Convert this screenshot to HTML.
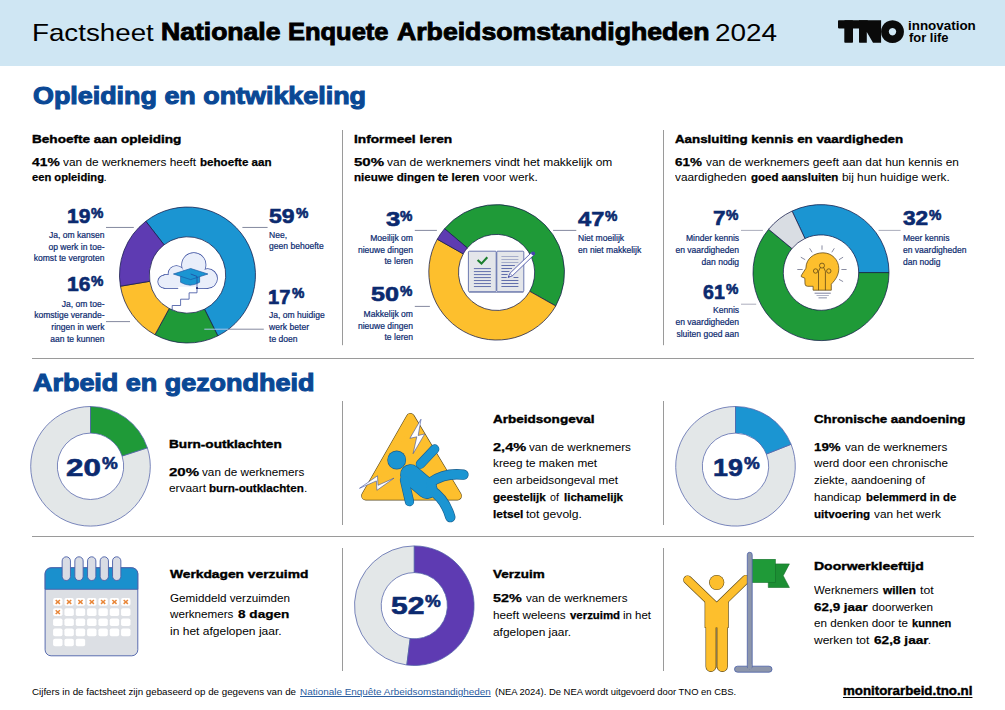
<!DOCTYPE html><html><head><meta charset="utf-8"><title>Factsheet NEA 2024</title><style>
html,body{margin:0;padding:0;background:#fff}
body{width:1005px;height:710px;position:relative;overflow:hidden;font-family:"Liberation Sans",sans-serif}
.hd{position:absolute;left:0;top:0;width:1005px;height:66px;background:#cfe6f3}
.t{position:absolute;white-space:nowrap;line-height:1;font-weight:400}
.t b{font-weight:700;-webkit-text-stroke:0.25px}
.tb{font-weight:700}
svg{position:absolute;left:0;top:0}
.bl{display:inline-block;width:0;height:0}
</style></head><body>
<div class="hd"></div>
<svg width="1005" height="710" viewBox="0 0 1005 710"><path d="M145.82,221.27 A68,68 0 1 1 217.84,335.86 L204.54,309.19 A38.2,38.2 0 1 0 164.09,244.82 Z" fill="#1b95d2" stroke="#141b4a" stroke-width="0.75" stroke-linejoin="round"/><path d="M217.84,335.86 A68,68 0 0 1 154.95,334.70 L169.21,308.54 A38.2,38.2 0 0 0 204.54,309.19 Z" fill="#1f9a38" stroke="#141b4a" stroke-width="0.75" stroke-linejoin="round"/><path d="M154.95,334.70 A68,68 0 0 1 120.43,286.22 L149.82,281.30 A38.2,38.2 0 0 0 169.21,308.54 Z" fill="#fdbf2d" stroke="#141b4a" stroke-width="0.75" stroke-linejoin="round"/><path d="M120.43,286.22 A68,68 0 0 1 145.82,221.27 L164.09,244.82 A38.2,38.2 0 0 0 149.82,281.30 Z" fill="#5e3bb2" stroke="#141b4a" stroke-width="0.75" stroke-linejoin="round"/><path d="M444.56,228.71 A68,68 0 0 1 555.74,305.98 L529.78,291.35 A38.2,38.2 0 0 0 467.32,247.94 Z" fill="#1f9a38" stroke="#141b4a" stroke-width="0.75" stroke-linejoin="round"/><path d="M555.74,305.98 A68,68 0 0 1 437.26,239.22 L463.22,253.85 A38.2,38.2 0 0 0 529.78,291.35 Z" fill="#fdbf2d" stroke="#141b4a" stroke-width="0.75" stroke-linejoin="round"/><path d="M437.26,239.22 A68,68 0 0 1 444.56,228.71 L467.32,247.94 A38.2,38.2 0 0 0 463.22,253.85 Z" fill="#5e3bb2" stroke="#141b4a" stroke-width="0.75" stroke-linejoin="round"/><path d="M792.05,211.07 A68,68 0 0 1 889.00,272.60 L858.70,272.60 A37.7,37.7 0 0 0 804.95,238.49 Z" fill="#1b95d2" stroke="#141b4a" stroke-width="0.75" stroke-linejoin="round"/><path d="M889.00,272.60 A68,68 0 1 1 768.61,229.26 L791.95,248.57 A37.7,37.7 0 1 0 858.70,272.60 Z" fill="#1f9a38" stroke="#141b4a" stroke-width="0.75" stroke-linejoin="round"/><path d="M768.61,229.26 A68,68 0 0 1 792.05,211.07 L804.95,238.49 A37.7,37.7 0 0 0 791.95,248.57 Z" fill="#d9dde3" stroke="#141b4a" stroke-width="0.75" stroke-linejoin="round"/><path d="M147.37,447.82 A59.8,59.8 0 1 1 90.50,406.50 L90.50,433.10 A33.2,33.2 0 1 0 122.08,456.04 Z" fill="#e3e7e8" stroke="#5262a8" stroke-width="0.75" stroke-linejoin="round"/><path d="M90.50,406.50 A59.8,59.8 0 0 1 147.37,447.82 L122.08,456.04 A33.2,33.2 0 0 0 90.50,433.10 Z" fill="#1f9a38" stroke="#5262a8" stroke-width="0.75" stroke-linejoin="round"/><path d="M791.10,444.29 A59.8,59.8 0 1 1 735.50,406.50 L735.50,433.10 A33.2,33.2 0 1 0 766.37,454.08 Z" fill="#e3e7e8" stroke="#5262a8" stroke-width="0.75" stroke-linejoin="round"/><path d="M735.50,406.50 A59.8,59.8 0 0 1 791.10,444.29 L766.37,454.08 A33.2,33.2 0 0 0 735.50,433.10 Z" fill="#1b95d2" stroke="#5262a8" stroke-width="0.75" stroke-linejoin="round"/><path d="M406.81,665.03 A59.8,59.8 0 0 1 414.30,545.90 L414.30,572.60 A33.1,33.1 0 0 0 410.15,638.54 Z" fill="#e3e7e8" stroke="#5262a8" stroke-width="0.75" stroke-linejoin="round"/><path d="M414.30,545.90 A59.8,59.8 0 1 1 406.81,665.03 L410.15,638.54 A33.1,33.1 0 1 0 414.30,572.60 Z" fill="#5e3bb2" stroke="#5262a8" stroke-width="0.75" stroke-linejoin="round"/><line x1="106" y1="227.45" x2="133.8" y2="227.45" stroke="#6e748e" stroke-width="0.85"/><line x1="242.4" y1="227.45" x2="267.6" y2="227.45" stroke="#6e748e" stroke-width="0.85"/><line x1="106" y1="321.6" x2="130" y2="321.6" stroke="#6e748e" stroke-width="0.85"/><line x1="228.3" y1="329.2" x2="263.8" y2="329.2" stroke="#6e748e" stroke-width="0.85"/><line x1="414.8" y1="230.4" x2="436.9" y2="230.4" stroke="#6e748e" stroke-width="0.85"/><line x1="553.1" y1="230.4" x2="576.3" y2="230.4" stroke="#6e748e" stroke-width="0.85"/><line x1="414.8" y1="306.4" x2="429.9" y2="306.4" stroke="#6e748e" stroke-width="0.85"/><line x1="741" y1="230.4" x2="762.9" y2="230.4" stroke="#a2a4b4" stroke-width="0.9"/><line x1="878.6" y1="230.4" x2="900.6" y2="230.4" stroke="#a2a4b4" stroke-width="0.9"/><line x1="741" y1="304.2" x2="756.2" y2="304.2" stroke="#a2a4b4" stroke-width="0.9"/><line x1="204.3" y1="329.2" x2="228.3" y2="329.2" stroke="#a9c6ea" stroke-width="1"/><line x1="32" y1="358.5" x2="974" y2="358.5" stroke="#9a9a9a" stroke-width="1"/><line x1="32" y1="536.5" x2="974" y2="536.5" stroke="#9a9a9a" stroke-width="1"/><line x1="342.5" y1="130" x2="342.5" y2="345.2" stroke="#9a9a9a" stroke-width="1"/><line x1="663.5" y1="130" x2="663.5" y2="345.2" stroke="#9a9a9a" stroke-width="1"/><line x1="342.5" y1="401" x2="342.5" y2="525" stroke="#9a9a9a" stroke-width="1"/><line x1="663.5" y1="401" x2="663.5" y2="525" stroke="#9a9a9a" stroke-width="1"/><line x1="342.5" y1="548" x2="342.5" y2="671" stroke="#9a9a9a" stroke-width="1"/><line x1="663.5" y1="548" x2="663.5" y2="671" stroke="#9a9a9a" stroke-width="1"/><g fill="#0a0a0a"><rect x="838" y="20.3" width="30" height="8.1" rx="0.8"/><rect x="844.3" y="20.3" width="8.7" height="22.4" rx="0.8"/><path d="M859,20.3 H881.1 V42.7 H873 L866.8,32 V42.7 H859.6 Q859,42.7 859,42 Z"/><path fill-rule="evenodd" d="M892.5,20.2 a11.45,11.45 0 1 0 0.01,0 Z M892.5,28 a3.7,3.7 0 1 1 -0.01,0 Z"/></g>
<g><circle cx="164.3" cy="281.7" r="6.1" fill="#e9eefa" stroke="#3b4fa0" stroke-width="1.5"/><circle cx="176.4" cy="273.8" r="7.9" fill="#e9eefa" stroke="#3b4fa0" stroke-width="1.5"/><circle cx="193.8" cy="264.8" r="11.8" fill="#e9eefa" stroke="#3b4fa0" stroke-width="1.5"/><circle cx="207.6" cy="278.6" r="9.5" fill="#e9eefa" stroke="#3b4fa0" stroke-width="1.5"/><rect x="164.3" y="274.9" width="43.3" height="13.2" fill="#e9eefa" stroke="#3b4fa0" stroke-width="1.5"/><circle cx="164.3" cy="281.7" r="6.1" fill="#e9eefa"/><circle cx="176.4" cy="273.8" r="7.9" fill="#e9eefa"/><circle cx="193.8" cy="264.8" r="11.8" fill="#e9eefa"/><circle cx="207.6" cy="278.6" r="9.5" fill="#e9eefa"/><rect x="164.3" y="274.9" width="43.3" height="13.2" fill="#e9eefa"/><rect x="178.2" y="286.8" width="18" height="3" fill="#fff"/><path d="M180.6,276.5 V282.3 Q190.1,288 199.6,282.3 V276.5 Z" fill="#1b95d2" stroke="#1a5aa5" stroke-width="0.7"/><path d="M173.45,274 L190.67,268.5 L207.9,274 L190.67,279.6 Z" fill="#1b95d2" stroke="#1a5aa5" stroke-width="0.7" stroke-linejoin="round"/><path d="M190.67,274 L197,276.4 V288.1" fill="none" stroke="#1f3f9a" stroke-width="0.7"/><circle cx="197" cy="288.1" r="1" fill="#14206a"/><path d="M197,289 V292.8 H189.1 V299.2 H180.6 V305.5 H172.2 V311" fill="none" stroke="#3b4fa0" stroke-width="0.8"/></g>
<g><rect x="468.4" y="251.2" width="27.8" height="40.5" rx="0.9" fill="#e4e6ea" stroke="#4a5aa0" stroke-width="0.8"/><rect x="496.8" y="251.2" width="27" height="40.5" rx="0.9" fill="#e4e6ea" stroke="#4a5aa0" stroke-width="0.8"/><line x1="469" y1="292.4" x2="523.4" y2="292.4" stroke="#8f98bb" stroke-width="1"/><polyline points="477.6,259.9 481.5,263.6 487.3,257.2" fill="none" stroke="#1c7f2e" stroke-width="2.1"/><line x1="473.9" y1="268.60" x2="490.9" y2="268.60" stroke="#4a5aa0" stroke-width="0.85"/><line x1="473.9" y1="271.59" x2="490.9" y2="271.59" stroke="#4a5aa0" stroke-width="0.85"/><line x1="473.9" y1="274.58" x2="490.9" y2="274.58" stroke="#4a5aa0" stroke-width="0.85"/><line x1="473.9" y1="277.57" x2="490.9" y2="277.57" stroke="#4a5aa0" stroke-width="0.85"/><line x1="473.9" y1="280.56" x2="490.9" y2="280.56" stroke="#4a5aa0" stroke-width="0.85"/><line x1="473.9" y1="283.55" x2="490.9" y2="283.55" stroke="#4a5aa0" stroke-width="0.85"/><line x1="473.9" y1="286.54" x2="490.9" y2="286.54" stroke="#4a5aa0" stroke-width="0.85"/><line x1="501.4" y1="256.50" x2="518.4" y2="256.50" stroke="#9aa3c4" stroke-width="0.85"/><line x1="501.4" y1="259.50" x2="518.4" y2="259.50" stroke="#9aa3c4" stroke-width="0.85"/><line x1="501.4" y1="262.50" x2="518.4" y2="262.50" stroke="#9aa3c4" stroke-width="0.85"/><line x1="501.4" y1="265.50" x2="514.9" y2="265.50" stroke="#4a5aa0" stroke-width="0.85"/><line x1="501.4" y1="268.50" x2="512" y2="268.50" stroke="#4a5aa0" stroke-width="0.85"/><line x1="501.4" y1="271.50" x2="509.4" y2="271.50" stroke="#4a5aa0" stroke-width="0.85"/><line x1="501.4" y1="274.50" x2="507.6" y2="274.50" stroke="#4a5aa0" stroke-width="0.85"/><line x1="501.4" y1="277.50" x2="506.7" y2="277.50" stroke="#4a5aa0" stroke-width="0.85"/><line x1="513.5" y1="277.50" x2="518.4" y2="277.50" stroke="#4a5aa0" stroke-width="0.85"/><line x1="501.4" y1="280.50" x2="518.4" y2="280.50" stroke="#4a5aa0" stroke-width="0.85"/><line x1="501.4" y1="283.50" x2="518.4" y2="283.50" stroke="#4a5aa0" stroke-width="0.85"/><line x1="501.4" y1="286.50" x2="518.4" y2="286.50" stroke="#4a5aa0" stroke-width="0.85"/><polygon points="508.10,277.50 512.34,275.84 534.41,254.56 531.99,252.04 509.91,273.33" fill="#fff" stroke="#3b45a0" stroke-width="0.8" stroke-linejoin="round"/><polygon points="508.10,277.50 509.92,276.79 508.88,275.71" fill="#3b45a0"/><line x1="512.34" y1="275.84" x2="509.91" y2="273.33" stroke="#3b45a0" stroke-width="0.6"/><circle cx="533.20" cy="253.30" r="1.9" fill="#4744ad"/></g>
<g><path d="M813.1,290.2 V286.3 H807.6 Q805.2,286.3 805,284 L804.8,278.2 L801.3,276.7 Q801,276 801.6,275 L805.9,268.3 C806,258.5 814,252.8 822.9,252.8 C832,252.8 838.8,260 838.8,268.5 C838.8,275 835.6,279.6 831.3,284.2 V290.2 Z" fill="#fdbf2d" stroke="#4d3a14" stroke-width="0.7" stroke-linejoin="round"/><g fill="none" stroke="#4d3a14" stroke-width="0.7"><line x1="818.5" y1="271.3" x2="818.5" y2="290.2"/><line x1="825.4" y1="271.3" x2="825.4" y2="290.2"/><circle cx="815.6" cy="271" r="2.2"/><circle cx="822" cy="265.6" r="2.5"/><circle cx="828.8" cy="271" r="2.2"/><path d="M818.5,271.3 L820.3,267.6 M825.4,271.3 L823.7,267.6"/></g><line x1="814.6" y1="293.2" x2="830.8" y2="293.2" stroke="#5a5f86" stroke-width="0.8"/><line x1="816.5" y1="295.5" x2="828.9" y2="295.5" stroke="#9aa0b8" stroke-width="0.8"/><line x1="818.5" y1="297.8" x2="826.9" y2="297.8" stroke="#a4a9bd" stroke-width="1.3"/><line x1="822" y1="245.4" x2="822" y2="249.8" stroke="#565a78" stroke-width="0.7"/><line x1="809.6" y1="248.3" x2="812.1" y2="252.3" stroke="#565a78" stroke-width="0.7"/><line x1="834.3" y1="248.3" x2="831.8" y2="252.3" stroke="#565a78" stroke-width="0.7"/><line x1="800.8" y1="257.2" x2="805.2" y2="259.7" stroke="#565a78" stroke-width="0.7"/><line x1="843.1" y1="257.2" x2="839" y2="259.7" stroke="#565a78" stroke-width="0.7"/><line x1="797.3" y1="269.5" x2="802.7" y2="269.5" stroke="#565a78" stroke-width="0.7"/><line x1="841.4" y1="269.5" x2="846.6" y2="269.5" stroke="#565a78" stroke-width="0.7"/><line x1="839" y1="279.4" x2="843.1" y2="281.6" stroke="#565a78" stroke-width="0.7"/></g>
<g><polygon points="410.4,417.7 457.3,495.8 365.8,495.8" fill="#4a4a3a" stroke="#5a4a20" stroke-width="9.2" stroke-linejoin="round"/><polygon points="410.4,417.7 457.3,495.8 365.8,495.8" fill="#fdbf2d" stroke="#fdbf2d" stroke-width="8" stroke-linejoin="round"/><polygon points="421,419.2 409.9,438.3 416.8,436.8 413.1,453.7 424.7,433.9 418.2,435.5" fill="#fff" stroke="#3b4fa0" stroke-width="0.6" stroke-linejoin="round"/><polygon points="359.5,488.3 377.5,475.8 378,485.3 393.9,478.2 376.9,490.3 376.4,480.9" fill="#fff" stroke="#3b4fa0" stroke-width="0.6" stroke-linejoin="round"/><g fill="#1a5f8f" stroke="#1a5f8f" stroke-linecap="round" stroke-linejoin="round"><circle cx="396.7" cy="460" r="9.450000000000001" stroke="none"/><line x1="410.5" y1="474.6" x2="427" y2="488.6" stroke-width="20.8"/><line x1="420.5" y1="464.1" x2="434.6" y2="449.1" stroke-width="9.5"/><line x1="404.5" y1="480" x2="409.5" y2="501.6" stroke-width="9.3"/><path d="M430.6,482.4 Q445.2,472.3 463.5,474.7" fill="none" stroke-width="10.3"/><path d="M430.6,489.7 Q445.2,498.9 450.3,517.2" fill="none" stroke-width="10.3"/></g><g fill="#1b95d2" stroke="#1b95d2" stroke-linecap="round" stroke-linejoin="round"><circle cx="396.7" cy="460" r="8.8" stroke="none"/><line x1="410.5" y1="474.6" x2="427" y2="488.6" stroke-width="19.5"/><line x1="420.5" y1="464.1" x2="434.6" y2="449.1" stroke-width="8.2"/><line x1="404.5" y1="480" x2="409.5" y2="501.6" stroke-width="8"/><path d="M430.6,482.4 Q445.2,472.3 463.5,474.7" fill="none" stroke-width="9"/><path d="M430.6,489.7 Q445.2,498.9 450.3,517.2" fill="none" stroke-width="9"/></g></g>
<g><rect x="45.1" y="567.8" width="92.7" height="88" rx="6" fill="#dcdfe4" stroke="#4a5fa8" stroke-width="0.9"/><path d="M45.1,589.3 V573.8 a6,6 0 0 1 6,-6 H131.8 a6,6 0 0 1 6,6 V589.3 Z" fill="#1a90cd" stroke="#4a5fa8" stroke-width="0.9"/><rect x="62.15" y="556.8" width="8.3" height="23.7" rx="4.15" fill="#d9dce4" stroke="#4a5fa8" stroke-width="0.9"/><rect x="74.85" y="556.8" width="8.3" height="23.7" rx="4.15" fill="#d9dce4" stroke="#4a5fa8" stroke-width="0.9"/><rect x="87.55" y="556.8" width="8.3" height="23.7" rx="4.15" fill="#d9dce4" stroke="#4a5fa8" stroke-width="0.9"/><rect x="100.15" y="556.8" width="8.3" height="23.7" rx="4.15" fill="#d9dce4" stroke="#4a5fa8" stroke-width="0.9"/><rect x="112.55" y="556.8" width="8.3" height="23.7" rx="4.15" fill="#d9dce4" stroke="#4a5fa8" stroke-width="0.9"/><rect x="53.10" y="598.10" width="9.4" height="7.7" rx="1.8" fill="#fff"/><path d="M55.70,600.05 L59.90,603.85 M59.90,600.05 L55.70,603.85" stroke="#e8873a" stroke-width="1.5"/><rect x="64.43" y="598.10" width="9.4" height="7.7" rx="1.8" fill="#fff"/><path d="M67.03,600.05 L71.23,603.85 M71.23,600.05 L67.03,603.85" stroke="#e8873a" stroke-width="1.5"/><rect x="75.76" y="598.10" width="9.4" height="7.7" rx="1.8" fill="#fff"/><path d="M78.36,600.05 L82.56,603.85 M82.56,600.05 L78.36,603.85" stroke="#e8873a" stroke-width="1.5"/><rect x="87.09" y="598.10" width="9.4" height="7.7" rx="1.8" fill="#fff"/><path d="M89.69,600.05 L93.89,603.85 M93.89,600.05 L89.69,603.85" stroke="#e8873a" stroke-width="1.5"/><rect x="98.42" y="598.10" width="9.4" height="7.7" rx="1.8" fill="#fff"/><path d="M101.02,600.05 L105.22,603.85 M105.22,600.05 L101.02,603.85" stroke="#e8873a" stroke-width="1.5"/><rect x="109.75" y="598.10" width="9.4" height="7.7" rx="1.8" fill="#fff"/><path d="M112.35,600.05 L116.55,603.85 M116.55,600.05 L112.35,603.85" stroke="#e8873a" stroke-width="1.5"/><rect x="121.08" y="598.10" width="9.4" height="7.7" rx="1.8" fill="#fff"/><path d="M123.68,600.05 L127.88,603.85 M127.88,600.05 L123.68,603.85" stroke="#e8873a" stroke-width="1.5"/><rect x="53.10" y="608.24" width="9.4" height="7.7" rx="1.8" fill="#fff"/><path d="M55.70,610.19 L59.90,613.99 M59.90,610.19 L55.70,613.99" stroke="#e8873a" stroke-width="1.5"/><rect x="64.43" y="608.24" width="9.4" height="7.7" rx="1.8" fill="#fff"/><rect x="75.76" y="608.24" width="9.4" height="7.7" rx="1.8" fill="#fff"/><rect x="87.09" y="608.24" width="9.4" height="7.7" rx="1.8" fill="#fff"/><rect x="98.42" y="608.24" width="9.4" height="7.7" rx="1.8" fill="#fff"/><rect x="109.75" y="608.24" width="9.4" height="7.7" rx="1.8" fill="#fff"/><rect x="121.08" y="608.24" width="9.4" height="7.7" rx="1.8" fill="#fff"/><rect x="53.10" y="618.38" width="9.4" height="7.7" rx="1.8" fill="#fff"/><rect x="64.43" y="618.38" width="9.4" height="7.7" rx="1.8" fill="#fff"/><rect x="75.76" y="618.38" width="9.4" height="7.7" rx="1.8" fill="#fff"/><rect x="87.09" y="618.38" width="9.4" height="7.7" rx="1.8" fill="#fff"/><rect x="98.42" y="618.38" width="9.4" height="7.7" rx="1.8" fill="#fff"/><rect x="109.75" y="618.38" width="9.4" height="7.7" rx="1.8" fill="#fff"/><rect x="121.08" y="618.38" width="9.4" height="7.7" rx="1.8" fill="#fff"/><rect x="53.10" y="628.52" width="9.4" height="7.7" rx="1.8" fill="#fff"/><rect x="64.43" y="628.52" width="9.4" height="7.7" rx="1.8" fill="#fff"/><rect x="75.76" y="628.52" width="9.4" height="7.7" rx="1.8" fill="#fff"/><rect x="87.09" y="628.52" width="9.4" height="7.7" rx="1.8" fill="#fff"/><rect x="98.42" y="628.52" width="9.4" height="7.7" rx="1.8" fill="#fff"/><rect x="109.75" y="628.52" width="9.4" height="7.7" rx="1.8" fill="#fff"/><rect x="121.08" y="628.52" width="9.4" height="7.7" rx="1.8" fill="#fff"/><rect x="53.10" y="638.66" width="9.4" height="7.7" rx="1.8" fill="#fff"/><rect x="64.43" y="638.66" width="9.4" height="7.7" rx="1.8" fill="#fff"/><rect x="75.76" y="638.66" width="9.4" height="7.7" rx="1.8" fill="#fff"/></g>
<g><g fill="#5f4a18" stroke="#5f4a18" stroke-linecap="round" stroke-linejoin="round"><circle cx="716.7" cy="582.5" r="7.6" stroke="none"/><line x1="687.6" y1="579.8" x2="716.7" y2="607.7" stroke-width="8.799999999999999"/><line x1="745.8" y1="579.4" x2="716.7" y2="607.7" stroke-width="8.799999999999999"/><path d="M705.2,598 L716.7,609 L728.1,598 V627.4 H705.2 Z" stroke-width="1.2"/><rect x="706.1" y="618" width="9.5" height="53.3" rx="4.7" stroke-width="1.2"/><rect x="717.4" y="618" width="9.8" height="53.3" rx="4.7" stroke-width="1.2"/></g><g fill="#fdbf2d" stroke="#fdbf2d" stroke-linecap="round" stroke-linejoin="round"><circle cx="716.7" cy="582.5" r="7.0" stroke="none"/><line x1="687.6" y1="579.8" x2="716.7" y2="607.7" stroke-width="7.6"/><line x1="745.8" y1="579.4" x2="716.7" y2="607.7" stroke-width="7.6"/><path d="M705.2,598 L716.7,609 L728.1,598 V627.4 H705.2 Z" stroke-width="0"/><rect x="706.1" y="618" width="9.5" height="53.3" rx="4.7" stroke-width="0"/><rect x="717.4" y="618" width="9.8" height="53.3" rx="4.7" stroke-width="0"/></g><line x1="716.5" y1="628" x2="716.5" y2="668" stroke="#5f4a18" stroke-width="0.6"/><polygon points="768.3,563.9 789.4,563.9 783.2,575.7 789.4,587.5 768.3,587.5" fill="#1c8f33" stroke="#15702a" stroke-width="0.6"/><rect x="751.5" y="559.3" width="23.8" height="23.2" fill="#1f9a38" stroke="#15702a" stroke-width="0.6"/><rect x="734.5" y="666.2" width="37.5" height="6" rx="3" fill="#8d96ab" stroke="#4a5fa8" stroke-width="0.8"/><rect x="747.3" y="552.3" width="4.9" height="116.5" rx="2.45" fill="#8d96ab" stroke="#4a5fa8" stroke-width="0.8"/><rect x="747.8" y="664" width="3.9" height="5" fill="#8d96ab"/></g></svg>
<div class="t" style="top:21.00px;font-size:24.4px;color:#000;left:31.63px;transform-origin:0 0;transform:scaleX(1.1371);">Factsheet</div>
<div class="t tb" style="top:20.00px;font-size:23.8px;color:#000;left:161.38px;transform-origin:0 0;transform:scaleX(1.1151);-webkit-text-stroke:0.9px;">Nationale</div>
<div class="t tb" style="top:20.00px;font-size:23.8px;color:#000;left:287.63px;transform-origin:0 0;transform:scaleX(1.0699);-webkit-text-stroke:0.9px;">Enquete</div>
<div class="t tb" style="top:20.00px;font-size:23.8px;color:#000;left:396.70px;transform-origin:0 0;transform:scaleX(1.1198);-webkit-text-stroke:0.9px;">Arbeidsomstandigheden</div>
<div class="t" style="top:21.00px;font-size:24.4px;color:#000;left:715.26px;transform-origin:0 0;transform:scaleX(1.1434);">2024</div>
<div class="t tb" style="top:20.00px;font-size:12.6px;color:#000;left:908.04px;transform-origin:0 0;transform:scaleX(1.0645);">innovation</div>
<div class="t tb" style="top:32.00px;font-size:12.6px;color:#000;left:909.10px;transform-origin:0 0;transform:scaleX(1.0263);">for life</div>
<div class="t tb" style="top:84.00px;font-size:24.6px;color:#0a4895;left:32.80px;transform-origin:0 0;transform:scaleX(1.0928);-webkit-text-stroke:1.1px;">Opleiding en ontwikkeling</div>
<div class="t tb" style="top:371.00px;font-size:24.6px;color:#0a4895;left:32.60px;transform-origin:0 0;transform:scaleX(1.0953);-webkit-text-stroke:1.1px;">Arbeid en gezondheid</div>
<div class="t tb" style="top:133.00px;font-size:11.6px;color:#000;left:32.10px;transform-origin:0 0;transform:scaleX(1.1709);-webkit-text-stroke:0.4px;">Behoefte aan opleiding</div>
<div class="t tb" style="top:133.00px;font-size:11.6px;color:#000;left:353.50px;transform-origin:0 0;transform:scaleX(1.1819);-webkit-text-stroke:0.4px;">Informeel leren</div>
<div class="t tb" style="top:133.00px;font-size:11.6px;color:#000;left:675.40px;transform-origin:0 0;transform:scaleX(1.1495);-webkit-text-stroke:0.4px;">Aansluiting kennis en vaardigheden</div>
<div class="t tb" style="top:157.00px;font-size:11.5px;color:#000;left:32.10px;transform-origin:0 0;transform:scaleX(1.2043);-webkit-text-stroke:0.25px;">41%</div>
<div class="t" style="top:157.00px;font-size:11.5px;color:#000;left:63.00px;transform-origin:0 0;transform:scaleX(1.0310);">van de werknemers heeft</div>
<div class="t tb" style="top:157.00px;font-size:11.5px;color:#000;left:200.00px;transform-origin:0 0;transform:scaleX(1.0085);-webkit-text-stroke:0.25px;">behoefte aan</div>
<div class="t tb" style="top:172.00px;font-size:11.5px;color:#000;left:32.10px;transform-origin:0 0;transform:scaleX(0.9716);-webkit-text-stroke:0.25px;">een opleiding</div>
<div class="t" style="top:172.00px;font-size:11.5px;color:#000;left:103.60px;transform-origin:0 0;">.</div>
<div class="t tb" style="top:157.00px;font-size:11.5px;color:#000;left:353.90px;transform-origin:0 0;transform:scaleX(1.3087);-webkit-text-stroke:0.25px;">50%</div>
<div class="t" style="top:157.00px;font-size:11.5px;color:#000;left:387.40px;transform-origin:0 0;transform:scaleX(1.0398);">van de werknemers vindt het makkelijk om</div>
<div class="t tb" style="top:172.00px;font-size:11.5px;color:#000;left:353.90px;transform-origin:0 0;transform:scaleX(1.0113);-webkit-text-stroke:0.25px;">nieuwe dingen te leren</div>
<div class="t" style="top:172.00px;font-size:11.5px;color:#000;left:482.90px;transform-origin:0 0;transform:scaleX(1.0308);">voor werk.</div>
<div class="t tb" style="top:157.00px;font-size:11.5px;color:#000;left:675.40px;transform-origin:0 0;transform:scaleX(1.1696);-webkit-text-stroke:0.25px;">61%</div>
<div class="t" style="top:157.00px;font-size:11.5px;color:#000;left:706.20px;transform-origin:0 0;transform:scaleX(1.0302);">van de werknemers geeft aan dat hun kennis en</div>
<div class="t" style="top:172.00px;font-size:11.5px;color:#000;left:675.40px;transform-origin:0 0;transform:scaleX(1.0261);">vaardigheden</div>
<div class="t tb" style="top:172.00px;font-size:11.5px;color:#000;left:750.70px;transform-origin:0 0;transform:scaleX(0.9977);-webkit-text-stroke:0.25px;">goed aansluiten</div>
<div class="t" style="top:172.00px;font-size:11.5px;color:#000;left:841.70px;transform-origin:0 0;transform:scaleX(1.0279);">bij hun huidige werk.</div>
<div class="t tb" style="top:206.00px;font-size:20.6px;color:#0b2a6f;left:67.18px;transform-origin:0 0;transform:scaleX(1.0227);-webkit-text-stroke:0.6px;">19</div>
<div class="t tb" style="top:207.00px;font-size:13.8px;color:#0b2a6f;left:91.40px;transform-origin:0 0;transform:scaleX(1.0077);-webkit-text-stroke:0.6px;">%</div>
<div class="t" style="top:231.00px;font-size:8.55px;color:#0b2a6f;right:900.50px;transform-origin:100% 0;-webkit-text-stroke:0.2px;">Ja, om kansen</div>
<div class="t" style="top:243.00px;font-size:8.55px;color:#0b2a6f;right:900.50px;transform-origin:100% 0;-webkit-text-stroke:0.2px;">op werk in toe-</div>
<div class="t" style="top:254.00px;font-size:8.55px;color:#0b2a6f;right:900.50px;transform-origin:100% 0;-webkit-text-stroke:0.2px;">komst te vergroten</div>
<div class="t tb" style="top:274.00px;font-size:20.6px;color:#0b2a6f;left:67.18px;transform-origin:0 0;transform:scaleX(1.0227);-webkit-text-stroke:0.6px;">16</div>
<div class="t tb" style="top:275.00px;font-size:13.8px;color:#0b2a6f;left:91.40px;transform-origin:0 0;transform:scaleX(1.0077);-webkit-text-stroke:0.6px;">%</div>
<div class="t" style="top:300.00px;font-size:8.55px;color:#0b2a6f;right:900.50px;transform-origin:100% 0;-webkit-text-stroke:0.2px;">Ja, om toe-</div>
<div class="t" style="top:311.00px;font-size:8.55px;color:#0b2a6f;right:900.50px;transform-origin:100% 0;-webkit-text-stroke:0.2px;">komstige verande-</div>
<div class="t" style="top:323.00px;font-size:8.55px;color:#0b2a6f;right:900.50px;transform-origin:100% 0;-webkit-text-stroke:0.2px;">ringen in werk</div>
<div class="t" style="top:335.00px;font-size:8.55px;color:#0b2a6f;right:900.50px;transform-origin:100% 0;-webkit-text-stroke:0.2px;">aan te kunnen</div>
<div class="t tb" style="top:206.00px;font-size:20.6px;color:#0b2a6f;left:269.10px;transform-origin:0 0;transform:scaleX(1.1174);-webkit-text-stroke:0.6px;">59</div>
<div class="t tb" style="top:207.00px;font-size:13.8px;color:#0b2a6f;left:295.50px;transform-origin:0 0;transform:scaleX(1.0077);-webkit-text-stroke:0.6px;">%</div>
<div class="t" style="top:231.00px;font-size:8.55px;color:#0b2a6f;left:269.10px;transform-origin:0 0;-webkit-text-stroke:0.2px;">Nee,</div>
<div class="t" style="top:242.00px;font-size:8.55px;color:#0b2a6f;left:269.10px;transform-origin:0 0;-webkit-text-stroke:0.2px;">geen behoefte</div>
<div class="t tb" style="top:287.00px;font-size:20.6px;color:#0b2a6f;left:268.12px;transform-origin:0 0;transform:scaleX(0.9773);-webkit-text-stroke:0.6px;">17</div>
<div class="t tb" style="top:287.00px;font-size:13.8px;color:#0b2a6f;left:292.30px;transform-origin:0 0;transform:scaleX(1.0077);-webkit-text-stroke:0.6px;">%</div>
<div class="t" style="top:311.00px;font-size:8.55px;color:#0b2a6f;left:269.10px;transform-origin:0 0;-webkit-text-stroke:0.2px;">Ja, om huidige</div>
<div class="t" style="top:323.00px;font-size:8.55px;color:#0b2a6f;left:269.10px;transform-origin:0 0;-webkit-text-stroke:0.2px;">werk beter</div>
<div class="t" style="top:335.00px;font-size:8.55px;color:#0b2a6f;left:269.10px;transform-origin:0 0;-webkit-text-stroke:0.2px;">te doen</div>
<div class="t tb" style="top:209.00px;font-size:20.6px;color:#0b2a6f;left:385.50px;transform-origin:0 0;transform:scaleX(1.2455);-webkit-text-stroke:0.6px;">3</div>
<div class="t tb" style="top:210.00px;font-size:13.8px;color:#0b2a6f;left:399.90px;transform-origin:0 0;transform:scaleX(1.0077);-webkit-text-stroke:0.6px;">%</div>
<div class="t" style="top:234.00px;font-size:8.55px;color:#0b2a6f;right:592.00px;transform-origin:100% 0;-webkit-text-stroke:0.2px;">Moeilijk om</div>
<div class="t" style="top:246.00px;font-size:8.55px;color:#0b2a6f;right:592.00px;transform-origin:100% 0;-webkit-text-stroke:0.2px;">nieuwe dingen</div>
<div class="t" style="top:257.00px;font-size:8.55px;color:#0b2a6f;right:592.00px;transform-origin:100% 0;-webkit-text-stroke:0.2px;">te leren</div>
<div class="t tb" style="top:284.00px;font-size:20.6px;color:#0b2a6f;left:371.10px;transform-origin:0 0;transform:scaleX(1.2217);-webkit-text-stroke:0.6px;">50</div>
<div class="t tb" style="top:285.00px;font-size:13.8px;color:#0b2a6f;left:399.90px;transform-origin:0 0;transform:scaleX(1.0077);-webkit-text-stroke:0.6px;">%</div>
<div class="t" style="top:310.00px;font-size:8.55px;color:#0b2a6f;right:592.00px;transform-origin:100% 0;-webkit-text-stroke:0.2px;">Makkelijk om</div>
<div class="t" style="top:322.00px;font-size:8.55px;color:#0b2a6f;right:592.00px;transform-origin:100% 0;-webkit-text-stroke:0.2px;">nieuwe dingen</div>
<div class="t" style="top:333.00px;font-size:8.55px;color:#0b2a6f;right:592.00px;transform-origin:100% 0;-webkit-text-stroke:0.2px;">te leren</div>
<div class="t tb" style="top:209.00px;font-size:20.6px;color:#0b2a6f;left:578.00px;transform-origin:0 0;transform:scaleX(1.1478);-webkit-text-stroke:0.6px;">47</div>
<div class="t tb" style="top:210.00px;font-size:13.8px;color:#0b2a6f;left:605.10px;transform-origin:0 0;transform:scaleX(1.0077);-webkit-text-stroke:0.6px;">%</div>
<div class="t" style="top:234.00px;font-size:8.55px;color:#0b2a6f;left:578.00px;transform-origin:0 0;-webkit-text-stroke:0.2px;">Niet moeilijk</div>
<div class="t" style="top:246.00px;font-size:8.55px;color:#0b2a6f;left:578.00px;transform-origin:0 0;-webkit-text-stroke:0.2px;">en niet makkelijk</div>
<div class="t tb" style="top:208.00px;font-size:20.6px;color:#0b2a6f;left:713.30px;transform-origin:0 0;transform:scaleX(1.0909);-webkit-text-stroke:0.6px;">7</div>
<div class="t tb" style="top:209.00px;font-size:13.8px;color:#0b2a6f;left:726.00px;transform-origin:0 0;transform:scaleX(1.0077);-webkit-text-stroke:0.6px;">%</div>
<div class="t" style="top:234.00px;font-size:8.55px;color:#0b2a6f;right:265.90px;transform-origin:100% 0;-webkit-text-stroke:0.2px;">Minder kennis</div>
<div class="t" style="top:246.00px;font-size:8.55px;color:#0b2a6f;right:265.90px;transform-origin:100% 0;-webkit-text-stroke:0.2px;">en vaardigheden</div>
<div class="t" style="top:258.00px;font-size:8.55px;color:#0b2a6f;right:265.90px;transform-origin:100% 0;-webkit-text-stroke:0.2px;">dan nodig</div>
<div class="t tb" style="top:282.00px;font-size:20.6px;color:#0b2a6f;left:703.40px;transform-origin:0 0;transform:scaleX(0.9522);-webkit-text-stroke:0.6px;">61</div>
<div class="t tb" style="top:283.00px;font-size:13.8px;color:#0b2a6f;left:726.00px;transform-origin:0 0;transform:scaleX(1.0077);-webkit-text-stroke:0.6px;">%</div>
<div class="t" style="top:306.00px;font-size:8.55px;color:#0b2a6f;right:265.90px;transform-origin:100% 0;-webkit-text-stroke:0.2px;">Kennis</div>
<div class="t" style="top:318.00px;font-size:8.55px;color:#0b2a6f;right:265.90px;transform-origin:100% 0;-webkit-text-stroke:0.2px;">en vaardigheden</div>
<div class="t" style="top:330.00px;font-size:8.55px;color:#0b2a6f;right:265.90px;transform-origin:100% 0;-webkit-text-stroke:0.2px;">sluiten goed aan</div>
<div class="t tb" style="top:208.00px;font-size:20.6px;color:#0b2a6f;left:902.90px;transform-origin:0 0;transform:scaleX(1.1000);-webkit-text-stroke:0.6px;">32</div>
<div class="t tb" style="top:209.00px;font-size:13.8px;color:#0b2a6f;left:928.90px;transform-origin:0 0;transform:scaleX(1.0077);-webkit-text-stroke:0.6px;">%</div>
<div class="t" style="top:234.00px;font-size:8.55px;color:#0b2a6f;left:902.90px;transform-origin:0 0;-webkit-text-stroke:0.2px;">Meer kennis</div>
<div class="t" style="top:246.00px;font-size:8.55px;color:#0b2a6f;left:902.90px;transform-origin:0 0;-webkit-text-stroke:0.2px;">en vaardigheden</div>
<div class="t" style="top:258.00px;font-size:8.55px;color:#0b2a6f;left:902.90px;transform-origin:0 0;-webkit-text-stroke:0.2px;">dan nodig</div>
<div class="t tb" style="top:438.00px;font-size:11.6px;color:#000;left:168.50px;transform-origin:0 0;transform:scaleX(1.1750);-webkit-text-stroke:0.4px;">Burn-outklachten</div>
<div class="t tb" style="top:467.00px;font-size:11.5px;color:#000;left:168.50px;transform-origin:0 0;transform:scaleX(1.3087);-webkit-text-stroke:0.25px;">20%</div>
<div class="t" style="top:467.00px;font-size:11.5px;color:#000;left:202.30px;transform-origin:0 0;transform:scaleX(1.0190);">van de werknemers</div>
<div class="t" style="top:483.00px;font-size:11.5px;color:#000;left:168.50px;transform-origin:0 0;transform:scaleX(1.0333);">ervaart</div>
<div class="t tb" style="top:483.00px;font-size:11.5px;color:#000;left:209.00px;transform-origin:0 0;transform:scaleX(1.0085);-webkit-text-stroke:0.25px;">burn-outklachten</div>
<div class="t" style="top:483.00px;font-size:11.5px;color:#000;left:304.25px;transform-origin:0 0;transform:scaleX(1.0500);">.</div>
<div class="t tb" style="top:456.00px;font-size:23.8px;color:#0b2a6f;left:65.70px;transform-origin:0 0;transform:scaleX(1.3154);-webkit-text-stroke:0.6px;">20</div>
<div class="t tb" style="top:455.00px;font-size:16.4px;color:#0b2a6f;left:101.80px;transform-origin:0 0;transform:scaleX(1.0800);-webkit-text-stroke:0.6px;">%</div>
<div class="t tb" style="top:413.00px;font-size:11.6px;color:#000;left:492.60px;transform-origin:0 0;transform:scaleX(1.1667);-webkit-text-stroke:0.4px;">Arbeidsongeval</div>
<div class="t tb" style="top:442.00px;font-size:11.5px;color:#000;left:492.60px;transform-origin:0 0;transform:scaleX(1.2692);-webkit-text-stroke:0.25px;">2,4%</div>
<div class="t" style="top:442.00px;font-size:11.5px;color:#000;left:529.30px;transform-origin:0 0;transform:scaleX(1.0160);">van de werknemers</div>
<div class="t" style="top:458.00px;font-size:11.5px;color:#000;left:492.60px;transform-origin:0 0;transform:scaleX(1.0235);">kreeg te maken met</div>
<div class="t" style="top:475.00px;font-size:11.5px;color:#000;left:492.60px;transform-origin:0 0;transform:scaleX(1.0179);">een arbeidsongeval met</div>
<div class="t tb" style="top:492.00px;font-size:11.5px;color:#000;left:492.60px;transform-origin:0 0;transform:scaleX(1.0057);-webkit-text-stroke:0.25px;">geestelijk</div>
<div class="t" style="top:492.00px;font-size:11.5px;color:#000;left:550.10px;transform-origin:0 0;transform:scaleX(0.9300);">of</div>
<div class="t tb" style="top:492.00px;font-size:11.5px;color:#000;left:563.70px;transform-origin:0 0;transform:scaleX(1.0034);-webkit-text-stroke:0.25px;">lichamelijk</div>
<div class="t tb" style="top:509.00px;font-size:11.5px;color:#000;left:492.60px;transform-origin:0 0;transform:scaleX(1.0345);-webkit-text-stroke:0.25px;">letsel</div>
<div class="t" style="top:509.00px;font-size:11.5px;color:#000;left:526.40px;transform-origin:0 0;transform:scaleX(1.0538);">tot gevolg.</div>
<div class="t tb" style="top:413.00px;font-size:11.6px;color:#000;left:814.30px;transform-origin:0 0;transform:scaleX(1.1470);-webkit-text-stroke:0.4px;">Chronische aandoening</div>
<div class="t tb" style="top:442.00px;font-size:11.5px;color:#000;left:814.30px;transform-origin:0 0;transform:scaleX(1.1565);-webkit-text-stroke:0.25px;">19%</div>
<div class="t" style="top:442.00px;font-size:11.5px;color:#000;left:844.70px;transform-origin:0 0;transform:scaleX(1.0200);">van de werknemers</div>
<div class="t" style="top:458.00px;font-size:11.5px;color:#000;left:814.30px;transform-origin:0 0;transform:scaleX(1.0129);">werd door een chronische</div>
<div class="t" style="top:475.00px;font-size:11.5px;color:#000;left:814.30px;transform-origin:0 0;transform:scaleX(1.0145);">ziekte, aandoening of</div>
<div class="t" style="top:492.00px;font-size:11.5px;color:#000;left:814.30px;transform-origin:0 0;transform:scaleX(1.0085);">handicap</div>
<div class="t tb" style="top:492.00px;font-size:11.5px;color:#000;left:865.90px;transform-origin:0 0;transform:scaleX(0.9870);-webkit-text-stroke:0.25px;">belemmerd in de</div>
<div class="t tb" style="top:509.00px;font-size:11.5px;color:#000;left:814.30px;transform-origin:0 0;transform:scaleX(1.0091);-webkit-text-stroke:0.25px;">uitvoering</div>
<div class="t" style="top:509.00px;font-size:11.5px;color:#000;left:873.50px;transform-origin:0 0;transform:scaleX(1.0277);">van het werk</div>
<div class="t tb" style="top:456.00px;font-size:23.8px;color:#0b2a6f;left:713.17px;transform-origin:0 0;transform:scaleX(1.1280);-webkit-text-stroke:0.6px;">19</div>
<div class="t tb" style="top:455.00px;font-size:16.4px;color:#0b2a6f;left:744.40px;transform-origin:0 0;transform:scaleX(1.0800);-webkit-text-stroke:0.6px;">%</div>
<div class="t tb" style="top:568.00px;font-size:11.6px;color:#000;left:170.10px;transform-origin:0 0;transform:scaleX(1.1888);-webkit-text-stroke:0.4px;">Werkdagen verzuimd</div>
<div class="t" style="top:593.00px;font-size:11.5px;color:#000;left:170.10px;transform-origin:0 0;transform:scaleX(1.0153);">Gemiddeld verzuimden</div>
<div class="t" style="top:609.00px;font-size:11.5px;color:#000;left:170.10px;transform-origin:0 0;transform:scaleX(1.0127);">werknemers</div>
<div class="t tb" style="top:609.00px;font-size:11.5px;color:#000;left:237.80px;transform-origin:0 0;transform:scaleX(1.1814);-webkit-text-stroke:0.25px;">8 dagen</div>
<div class="t" style="top:626.00px;font-size:11.5px;color:#000;left:170.10px;transform-origin:0 0;transform:scaleX(1.0453);">in het afgelopen jaar.</div>
<div class="t tb" style="top:568.00px;font-size:11.6px;color:#000;left:492.80px;transform-origin:0 0;transform:scaleX(1.1622);-webkit-text-stroke:0.4px;">Verzuim</div>
<div class="t tb" style="top:593.00px;font-size:11.5px;color:#000;left:492.80px;transform-origin:0 0;transform:scaleX(1.2522);-webkit-text-stroke:0.25px;">52%</div>
<div class="t" style="top:593.00px;font-size:11.5px;color:#000;left:525.90px;transform-origin:0 0;transform:scaleX(1.0110);">van de werknemers</div>
<div class="t" style="top:610.00px;font-size:11.5px;color:#000;left:492.80px;transform-origin:0 0;transform:scaleX(1.0225);">heeft weleens</div>
<div class="t tb" style="top:610.00px;font-size:11.5px;color:#000;left:569.50px;transform-origin:0 0;transform:scaleX(0.9920);-webkit-text-stroke:0.25px;">verzuimd</div>
<div class="t" style="top:610.00px;font-size:11.5px;color:#000;left:623.40px;transform-origin:0 0;transform:scaleX(0.9964);">in het</div>
<div class="t" style="top:627.00px;font-size:11.5px;color:#000;left:492.80px;transform-origin:0 0;transform:scaleX(1.0347);">afgelopen jaar.</div>
<div class="t tb" style="top:594.00px;font-size:23.8px;color:#0b2a6f;left:390.70px;transform-origin:0 0;transform:scaleX(1.2615);-webkit-text-stroke:0.6px;">52</div>
<div class="t tb" style="top:593.00px;font-size:16.4px;color:#0b2a6f;left:425.40px;transform-origin:0 0;transform:scaleX(1.0800);-webkit-text-stroke:0.6px;">%</div>
<div class="t tb" style="top:560.00px;font-size:11.6px;color:#000;left:814.30px;transform-origin:0 0;transform:scaleX(1.2077);-webkit-text-stroke:0.4px;">Doorwerkleeftijd</div>
<div class="t" style="top:585.00px;font-size:11.5px;color:#000;left:814.30px;transform-origin:0 0;transform:scaleX(0.9938);">Werknemers</div>
<div class="t tb" style="top:585.00px;font-size:11.5px;color:#000;left:882.80px;transform-origin:0 0;transform:scaleX(1.0312);-webkit-text-stroke:0.25px;">willen</div>
<div class="t" style="top:585.00px;font-size:11.5px;color:#000;left:920.00px;transform-origin:0 0;transform:scaleX(1.0692);">tot</div>
<div class="t tb" style="top:602.00px;font-size:11.5px;color:#000;left:814.30px;transform-origin:0 0;transform:scaleX(1.1652);-webkit-text-stroke:0.25px;">62,9 jaar</div>
<div class="t" style="top:602.00px;font-size:11.5px;color:#000;left:872.20px;transform-origin:0 0;transform:scaleX(1.0167);">doorwerken</div>
<div class="t" style="top:618.00px;font-size:11.5px;color:#000;left:814.30px;transform-origin:0 0;transform:scaleX(1.0129);">en denken door te</div>
<div class="t tb" style="top:618.00px;font-size:11.5px;color:#000;left:912.40px;transform-origin:0 0;transform:scaleX(0.9610);-webkit-text-stroke:0.25px;">kunnen</div>
<div class="t" style="top:635.00px;font-size:11.5px;color:#000;left:814.30px;transform-origin:0 0;transform:scaleX(1.0434);">werken tot</div>
<div class="t tb" style="top:635.00px;font-size:11.5px;color:#000;left:873.50px;transform-origin:0 0;transform:scaleX(1.1870);-webkit-text-stroke:0.25px;">62,8 jaar</div>
<div class="t" style="top:635.00px;font-size:11.5px;color:#000;left:928.30px;transform-origin:0 0;transform:scaleX(0.9000);">.</div>
<div class="t" style="top:687.00px;font-size:9.4px;color:#000;left:32.00px;transform-origin:0 0;transform:scaleX(1.0402);">Cijfers in de factsheet zijn gebaseerd op de gegevens van de</div>
<div class="t" style="top:687.00px;font-size:9.4px;color:#2a5d9f;left:299.90px;transform-origin:0 0;transform:scaleX(1.0580);"><span style="text-decoration:underline;text-decoration-thickness:0.7px;text-underline-offset:1px">Nationale Enquête Arbeidsomstandigheden</span></div>
<div class="t" style="top:687.00px;font-size:9.4px;color:#000;left:494.70px;transform-origin:0 0;transform:scaleX(1.0046);">(NEA 2024). De NEA wordt uitgevoerd door TNO en CBS.</div>
<div class="t tb" style="top:685.00px;font-size:12px;color:#000;left:843.20px;transform-origin:0 0;transform:scaleX(1.1094);-webkit-text-stroke:0.4px;"><span style="text-decoration:underline;text-underline-offset:2px;text-decoration-thickness:1.2px">monitorarbeid.tno.nl</span></div>
</body></html>
